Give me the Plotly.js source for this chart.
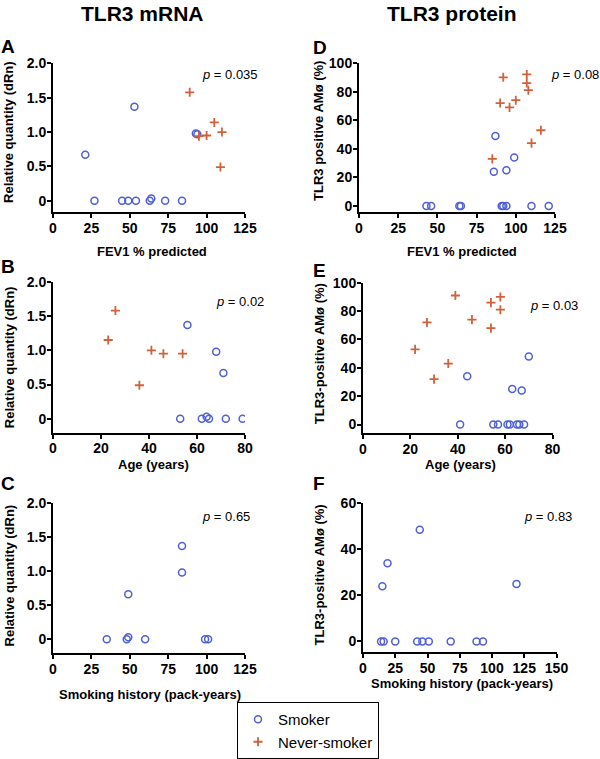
<!DOCTYPE html>
<html>
<head>
<meta charset="utf-8">
<script src="https://cdn.plot.ly/plotly-3.0.1.min.js"></script>
<style>
  html, body { margin: 0; padding: 0; background: #fff; }
  #chart { width: 600px; height: 759px; }
</style>
</head>
<body>
<div id="chart"></div>
<script>
// Panel A: TLR3 mRNA vs FEV1 % predicted
const aSmokerFev = [21, 27, 45, 49, 54, 63, 64, 73, 84, 53, 93, 94];
const aSmokerRq = [0.67, 0, 0, 0, 0, 0, 0.03, 0, 0, 1.37, 0.98, 0.97];
const aNeverFev = [89, 95, 100, 105, 109, 110];
const aNeverRq = [1.58, 0.94, 0.95, 1.14, 0.49, 1.0];

// Panel B: TLR3 mRNA vs age
const bSmokerAge = [53, 62, 64, 65, 72, 79, 56, 68, 71];
const bSmokerRq = [0, 0, 0.03, 0, 0, 0, 1.37, 0.98, 0.67];
const bNeverAge = [26, 23, 41, 46, 54, 36];
const bNeverRq = [1.58, 1.15, 1.0, 0.95, 0.95, 0.49];

// Panel C: TLR3 mRNA vs pack-years (smokers only)
const cSmokerPack = [35, 48, 49, 60, 99, 101, 49, 84, 84];
const cSmokerRq = [0, 0, 0.03, 0, 0, 0, 0.66, 1.37, 0.98];

// Panel D: TLR3 protein vs FEV1 % predicted
const dSmokerFev = [43, 46, 64, 65, 91, 92, 94, 110, 121, 87, 86, 94, 99];
const dSmokerPct = [0, 0, 0, 0, 0, 0, 0, 0, 0, 49, 24, 25, 34];
const dNeverFev = [85, 92, 90, 96, 100, 107, 107, 108, 110, 116];
const dNeverPct = [33, 90, 72, 69, 74, 92, 86, 81, 44, 53];

// Panel E: TLR3 protein vs age
const eSmokerAge = [41, 55, 57, 61, 62, 65, 66, 68, 44, 70, 63, 67];
const eSmokerPct = [0, 0, 0, 0, 0, 0, 0, 0, 34, 48, 25, 24];
const eNeverAge = [22, 27, 30, 36, 39, 46, 54, 54, 58, 58];
const eNeverPct = [53, 72, 32, 43, 91, 74, 86, 68, 90, 81];

// Panel F: TLR3 protein vs pack-years (smokers only)
const fSmokerPack = [14, 16, 25, 42, 46, 51, 68, 88, 93, 15, 19, 44, 119];
const fSmokerPct = [0, 0, 0, 0, 0, 0, 0, 0, 0, 24, 34, 48.5, 25];

// ticks
const mrnaTicks = [0, 0.5, 1, 1.5, 2];
const mrnaTickText = ['0', '0.5', '1.0', '1.5', '2.0'];
const pctTicks = [0, 20, 40, 60, 80, 100];
const pctTicksF = [0, 20, 40, 60];
const fevTicks = [0, 25, 50, 75, 100, 125];
const ageTicks = [0, 20, 40, 60, 80];
const packTicksC = [0, 25, 50, 75, 100, 125];
const packTicksF = [0, 25, 50, 75, 100, 125, 150];

const pValues = ['0.035', '0.02', '0.65', '0.08', '0.03', '0.83'];

const W = 600, H = 759;
const FONT = 'Liberation Sans, Arial, sans-serif';
const BLUE = '#4f5fd6';
const RED = '#d2603b';

// pixel -> paper helpers
const px = x => x / W;
const py = y => 1 - y / H;

function smoker(x, y, xa, ya, show) {
    return {
        x: x, y: y, xaxis: xa, yaxis: ya,
        type: 'scatter', mode: 'markers', name: 'Smoker',
        legendgroup: 'smoker', showlegend: show,
        marker: { symbol: 'circle-open', size: 7, color: BLUE, line: { width: 1.5, color: BLUE } },
        hoverinfo: 'skip'
    };
}

function never(x, y, xa, ya, show) {
    return {
        x: x, y: y, xaxis: xa, yaxis: ya,
        type: 'scatter', mode: 'markers', name: 'Never-smoker',
        legendgroup: 'never', showlegend: show,
        marker: { symbol: 'cross-thin-open', size: 6.5, color: RED, line: { width: 1.8, color: RED } },
        hoverinfo: 'skip'
    };
}

const data = [
    smoker(aSmokerFev, aSmokerRq, 'x', 'y', true),
    never(aNeverFev, aNeverRq, 'x', 'y', true),
    smoker(dSmokerFev, dSmokerPct, 'x2', 'y2', false),
    never(dNeverFev, dNeverPct, 'x2', 'y2', false),
    smoker(bSmokerAge, bSmokerRq, 'x3', 'y3', false),
    never(bNeverAge, bNeverRq, 'x3', 'y3', false),
    smoker(eSmokerAge, eSmokerPct, 'x4', 'y4', false),
    never(eNeverAge, eNeverPct, 'x4', 'y4', false),
    smoker(cSmokerPack, cSmokerRq, 'x5', 'y5', false),
    smoker(fSmokerPack, fSmokerPct, 'x6', 'y6', false)
];

function axis(range, domain, anchor, vals, text) {
    const labels = text || vals.map(String);
    return {
        range: range, domain: domain, anchor: anchor,
        tickvals: vals, ticktext: labels.map(t => '<b>' + t + '</b>'),
        showline: true, linecolor: '#000', linewidth: 2,
        ticks: 'outside', ticklen: 4, tickwidth: 2, tickcolor: '#000',
        ticklabelstandoff: -2,
        showgrid: false, zeroline: false, fixedrange: true,
        tickfont: { family: FONT, size: 14, color: '#000' }
    };
}

// panel boxes in pixels: [left, right, top, bottom]
const boxA = [53, 245, 64, 214];
const boxD = [359, 555, 63.5, 213.5];
const boxB = [53, 245, 284, 436];
const boxE = [363, 552.5, 285, 436.5];
const boxC = [53, 245, 507.3, 658];
const boxF = [363, 556.5, 507.3, 657];

const xd = b => [px(b[0]), px(b[1])];
const yd = b => [py(b[3]), py(b[2])];

const layout = {
    width: W, height: H,
    margin: { l: 0, r: 0, t: 0, b: 0 },
    paper_bgcolor: '#fff', plot_bgcolor: 'rgba(0,0,0,0)',
    font: { family: FONT, color: '#000' },
    xaxis: axis([0, 125], xd(boxA), 'y', fevTicks),
    yaxis: axis([-0.17, 2], yd(boxA), 'x', mrnaTicks, mrnaTickText),
    xaxis2: axis([0, 125], xd(boxD), 'y2', fevTicks),
    yaxis2: axis([-4, 100], yd(boxD), 'x2', pctTicks),
    xaxis3: axis([0, 80], xd(boxB), 'y3', ageTicks),
    yaxis3: axis([-0.2, 2], yd(boxB), 'x3', mrnaTicks, mrnaTickText),
    xaxis4: axis([0, 80], xd(boxE), 'y4', ageTicks),
    yaxis4: axis([-6, 100], yd(boxE), 'x4', pctTicks),
    xaxis5: axis([0, 125], xd(boxC), 'y5', packTicksC),
    yaxis5: axis([-0.2, 2], yd(boxC), 'x5', mrnaTicks, mrnaTickText),
    xaxis6: axis([0, 150], xd(boxF), 'y6', packTicksF),
    yaxis6: axis([-4.5, 60], yd(boxF), 'x6', pctTicksF),
    legend: {
        x: px(237), y: py(708), xanchor: 'left', yanchor: 'top',
        bordercolor: '#000', borderwidth: 1, bgcolor: '#fff',
        font: { family: FONT, size: 15, color: '#000' },
        itemwidth: 30, tracegroupgap: 0
    },
    annotations: []
};

function label(text, x, y, size, opts) {
    layout.annotations.push(Object.assign({
        text: text, xref: 'paper', yref: 'paper',
        x: px(x), y: py(y), xanchor: 'center', yanchor: 'middle',
        showarrow: false,
        font: { family: FONT, size: size, color: '#000' }
    }, opts || {}));
}

// column titles
label('<b>TLR3 mRNA</b>', 142, 14, 21);
label('<b>TLR3 protein</b>', 452, 14, 21);

// panel letters
label('<b>A</b>', 8, 47, 19);
label('<b>D</b>', 320, 48, 19);
label('<b>B</b>', 8, 269, 19);
label('<b>E</b>', 319, 273, 19);
label('<b>C</b>', 8, 487, 19);
label('<b>F</b>', 319, 487, 19);

// x axis titles
label('<b>FEV1 % predicted</b>', 152, 254, 13);
label('<b>FEV1 % predicted</b>', 462, 254, 13);
label('<b>Age (years)</b>', 153, 468, 13);
label('<b>Age (years)</b>', 460, 468, 13);
label('<b>Smoking history (pack-years)</b>', 150, 700, 13);
label('<b>Smoking history (pack-years)</b>', 462, 689, 13);

// y axis titles
label('<b>Relative quantity (dRn)</b>', 9, 133, 13, { textangle: -90 });
label('<b>TLR3 positive AMø (%)</b>', 319, 132, 13, { textangle: -90 });
label('<b>Relative quantity (dRn)</b>', 9, 360, 13, { textangle: -90 });
label('<b>TLR3-positive AMø (%)</b>', 319, 357, 13, { textangle: -90 });
label('<b>Relative quantity (dRn)</b>', 9, 580, 13, { textangle: -90 });
label('<b>TLR3-positive AMø (%)</b>', 319, 580, 13, { textangle: -90 });

// p values
const pPos = [[230, 75], [240, 304], [226, 521], [575, 75], [554, 308], [548, 521]];
pValues.forEach(function (p, i) {
    label('<i>p</i> = ' + p, pPos[i][0], pPos[i][1], 13);
});

Plotly.newPlot('chart', data, layout, { staticPlot: true, displayModeBar: false });
</script>
</body>
</html>
